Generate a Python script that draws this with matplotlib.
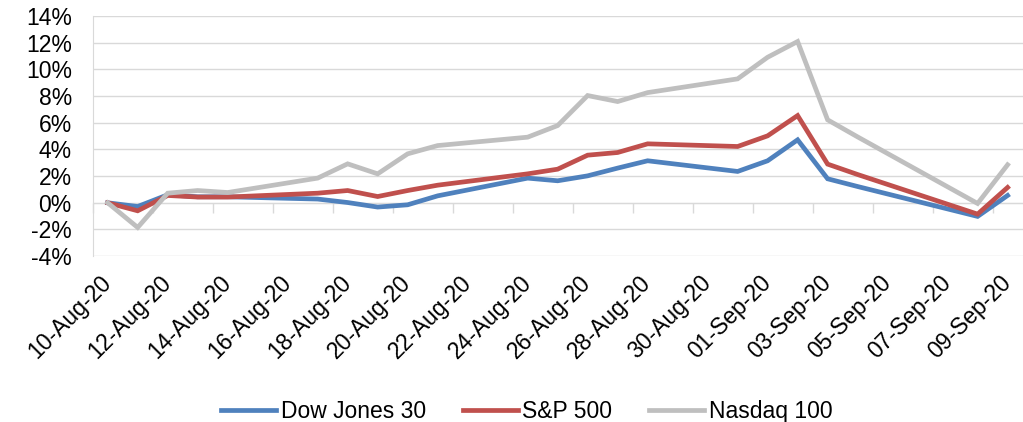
import datetime as dt
from matplotlib import pyplot as plt
from matplotlib import dates as mdates
from matplotlib.ticker import FuncFormatter, MultipleLocator

# trading days (no data on weekends / Labor Day)
days = ['2020-08-10','2020-08-11','2020-08-12','2020-08-13','2020-08-14',
        '2020-08-17','2020-08-18','2020-08-19','2020-08-20','2020-08-21',
        '2020-08-24','2020-08-25','2020-08-26','2020-08-27','2020-08-28',
        '2020-08-31','2020-09-01','2020-09-02','2020-09-03','2020-09-04',
        '2020-09-08','2020-09-09']
dow    = [0, -0.28, 0.6, 0.45, 0.45, 0.28, 0.02, -0.32, -0.15, 0.52,
          1.85, 1.65, 2.02, 2.6, 3.15, 2.35, 3.15, 4.72, 1.8, 1.22, -1.02, 0.55]
sp500  = [0, -0.6, 0.55, 0.43, 0.43, 0.72, 0.92, 0.47, 0.92, 1.32,
          2.17, 2.52, 3.57, 3.77, 4.42, 4.22, 5.02, 6.54, 2.9, 2.12, -0.85, 1.15]
nasdaq = [0, -1.85, 0.72, 0.92, 0.77, 1.85, 2.92, 2.17, 3.67, 4.29,
          4.92, 5.79, 8.04, 7.59, 8.26, 9.29, 10.91, 12.09, 6.22, 4.94, -0.05, 2.85]
names = ['Dow Jones 30', 'S&P 500', 'Nasdaq 100']
colors = ['#4F81BD', '#C0504D', '#BFBFBF']

x = [mdates.date2num(dt.datetime.strptime(d, '%Y-%m-%d')) for d in days]
start = x[0]

plt.rcParams['font.family'] = ['Liberation Sans', 'DejaVu Sans']
plt.rcParams['font.size'] = 16.5

fig = plt.figure(figsize=(10.23, 4.22), dpi=100)
ax = fig.add_axes([0.0906, 0.393, 0.909, 0.569])

for series, name, c in zip([dow, sp500, nasdaq], names, colors):
    ax.plot(x, series, color=c, lw=3.4, label=name, solid_joinstyle='miter')

ax.set_xlim(start - 0.5, start + 30.5)
ax.set_ylim(-4, 14)
ax.yaxis.set_major_locator(MultipleLocator(2))
ax.yaxis.set_major_formatter(FuncFormatter(lambda v, p: '%d%%' % v))
ax.grid(axis='y', color='#D9D9D9', lw=1)
ax.set_axisbelow(True)

# date labels every 2 days
lab_pos = [start + 2 * i for i in range(16)]
ax.set_xticks(lab_pos)
ax.set_xticklabels([mdates.num2date(p).strftime('%d-%b-%y') for p in lab_pos],
                   rotation=45, ha='right', va='center', rotation_mode='anchor')
ax.tick_params(axis='x', length=0, pad=17)
ax.tick_params(axis='y', length=0, pad=15)

for s in ['top', 'right', 'bottom']:
    ax.spines[s].set_visible(False)
ax.spines['left'].set_color('#D9D9D9')

# horizontal axis line with tick marks at 0%
sec = ax.secondary_xaxis(4 / 18.0)
sec.set_xticks([start - 0.5 + 2 * i for i in range(16)])
sec.set_xticklabels([])
sec.tick_params(length=7, color='#D9D9D9', width=1)
sec.spines['bottom'].set_color('#D9D9D9')

fig.legend(loc='center', bbox_to_anchor=(0.515, 0.025), ncol=3, frameon=False,
           handlelength=2.4, handletextpad=0.2, columnspacing=1.6)

plt.savefig('out.png', dpi=100)
